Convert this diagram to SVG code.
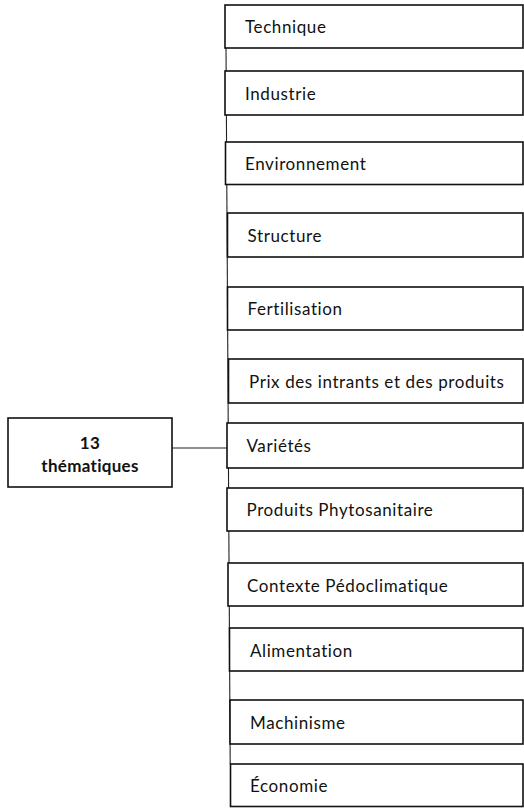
<svg xmlns="http://www.w3.org/2000/svg" width="524" height="808" viewBox="0 0 524 808">
<style>
.box{fill:#fff;stroke:#111;stroke-width:1.6}
.lbl{font-family:Lato,"Open Sans","Liberation Sans",sans-serif;font-size:17px;fill:#111;letter-spacing:0.6px;font-variant-ligatures:none}
.bold{font-weight:bold;text-anchor:middle;letter-spacing:0.3px}
.conn{stroke:#222;stroke-width:1.1;fill:none}
</style>
<rect width="524" height="808" fill="#fff"/>
<g id="connectors">
<line class="conn" x1="226" y1="48" x2="230.2" y2="764"/>
<line class="conn" x1="172" y1="448" x2="227.5" y2="448"/>
</g>
<g id="n-13">
<rect class="box" x="8" y="418" width="164" height="69"/>
<text class="lbl bold" x="90" y="449">13</text>
<text class="lbl bold" x="90" y="471.5">thématiques</text>
</g>
<g id="n-technique">
<rect class="box" x="225" y="5" width="298" height="43"/>
<text class="lbl" x="245" y="33">Technique</text>
</g>
<g id="n-industrie">
<rect class="box" x="225" y="71" width="298" height="44"/>
<text class="lbl" x="245" y="99.5">Industrie</text>
</g>
<g id="n-environnement">
<rect class="box" x="225.5" y="142" width="297.5" height="42.5"/>
<text class="lbl" x="245" y="170">Environnement</text>
</g>
<g id="n-structure">
<rect class="box" x="227.5" y="213" width="295.5" height="44"/>
<text class="lbl" x="247.5" y="241.5">Structure</text>
</g>
<g id="n-fertilisation">
<rect class="box" x="227.5" y="287" width="295.5" height="43"/>
<text class="lbl" x="247.5" y="315">Fertilisation</text>
</g>
<g id="n-prix">
<rect class="box" x="228.5" y="359" width="294.5" height="44"/>
<text class="lbl" x="249" y="388">Prix des intrants et des produits</text>
</g>
<g id="n-varietes">
<rect class="box" x="227" y="423" width="296" height="45"/>
<text class="lbl" x="246.5" y="452">Variétés</text>
</g>
<g id="n-phyto">
<rect class="box" x="227" y="488" width="296" height="43"/>
<text class="lbl" x="246.5" y="516">Produits Phytosanitaire</text>
</g>
<g id="n-contexte">
<rect class="box" x="228" y="563" width="295" height="43"/>
<text class="lbl" x="247" y="591.5">Contexte Pédoclimatique</text>
</g>
<g id="n-alimentation">
<rect class="box" x="229.5" y="628" width="293.5" height="43"/>
<text class="lbl" x="250" y="656.5">Alimentation</text>
</g>
<g id="n-machinisme">
<rect class="box" x="230" y="700" width="293" height="44"/>
<text class="lbl" x="250" y="728.5">Machinisme</text>
</g>
<g id="n-economie">
<rect class="box" x="230.5" y="764" width="292.5" height="42.5"/>
<text class="lbl" x="250" y="792">Économie</text>
</g>
</svg>
